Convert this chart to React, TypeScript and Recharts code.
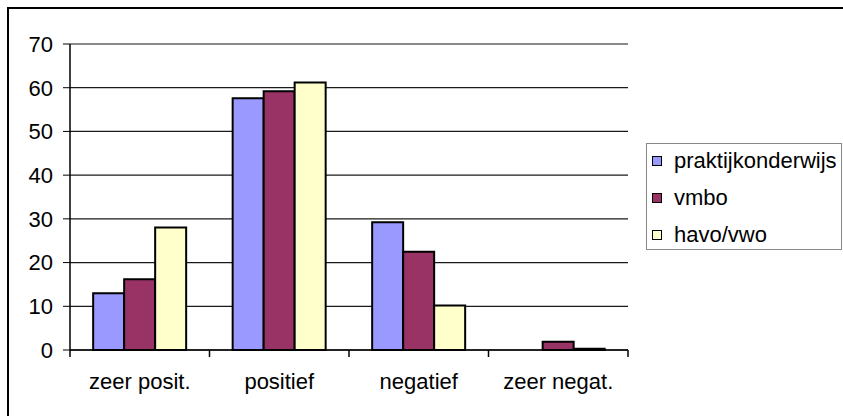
import { BarChart, Bar, XAxis, YAxis, CartesianGrid, ReferenceLine } from "recharts";

const categories = ["zeer posit.", "positief", "negatief", "zeer negat."];
const praktijkonderwijs = [13.0, 57.6, 29.2, 0];
const vmbo = [16.2, 59.2, 22.5, 1.9];
const havoVwo = [28.0, 61.2, 10.2, 0.3];
const yTicks = [0, 10, 20, 30, 40, 50, 60, 70];

const series = [
  { key: "praktijkonderwijs", label: "praktijkonderwijs", color: "#9999FF" },
  { key: "vmbo", label: "vmbo", color: "#993366" },
  { key: "havoVwo", label: "havo/vwo", color: "#FFFFCC" },
];

const data = categories.map((category, i) => ({
  category,
  praktijkonderwijs: praktijkonderwijs[i],
  vmbo: vmbo[i],
  havoVwo: havoVwo[i],
}));

const FONT = "'Liberation Sans', Arial, sans-serif";
const PLOT_LEFT = 70;
const PLOT_RIGHT = 628;
const HALF_BAND = (PLOT_RIGHT - PLOT_LEFT) / categories.length / 2;

// category labels at band centres, tick marks on the band edges
function CategoryTick(props: any) {
  const { x, y, payload, index } = props;
  return (
    <g>
      <line x1={x - HALF_BAND} y1={y} x2={x - HALF_BAND} y2={y + 7} stroke="#000" strokeWidth={1.5} />
      {index === categories.length - 1 && (
        <line x1={x + HALF_BAND} y1={y} x2={x + HALF_BAND} y2={y + 7} stroke="#000" strokeWidth={1.5} />
      )}
      <text x={x} y={y + 39} textAnchor="middle" fontSize={22} fontFamily={FONT} fill="#000">
        {payload.value}
      </text>
    </g>
  );
}

export default function App() {
  return (
    <div style={{ position: "fixed", left: 0, top: 0, width: 843, height: 416, overflow: "hidden", background: "#fff" }}>
      <div style={{ position: "absolute", left: 7, top: 7, width: 2, height: 409, background: "#000" }} />
      <div style={{ position: "absolute", left: 7, top: 7, width: 836, height: 2, background: "#000" }} />
      <div style={{ position: "absolute", left: 0, top: 0 }}>
        <BarChart
          width={843}
          height={416}
          data={data}
          margin={{ top: 44, right: 843 - PLOT_RIGHT, left: 0, bottom: 0 }}
          barCategoryGap="16.6%"
          barGap={0}
        >
          <CartesianGrid vertical={false} stroke="#1a1a1a" strokeWidth={1.2} />
          <XAxis
            dataKey="category"
            interval={0}
            tickSize={0}
            tickMargin={0}
            tickLine={false}
            axisLine={{ stroke: "#000", strokeWidth: 1.5 }}
            tick={<CategoryTick />}
            height={66}
          />
          <YAxis
            domain={[0, 70]}
            ticks={yTicks}
            width={PLOT_LEFT}
            tickSize={7}
            tickMargin={10}
            axisLine={{ stroke: "#000", strokeWidth: 1.5 }}
            tickLine={{ stroke: "#000" }}
            tick={{ fontSize: 22, fontFamily: FONT, fill: "#000" }}
          />
          <YAxis
            yAxisId="right"
            orientation="right"
            width={0}
            tick={false}
            tickLine={false}
            axisLine={{ stroke: "#888", strokeWidth: 1.5 }}
          />
          <ReferenceLine y={70} stroke="#888" strokeWidth={1.5} />
          {series.map((s) => (
            <Bar
              key={s.key}
              dataKey={s.key}
              name={s.label}
              fill={s.color}
              stroke="#000"
              strokeWidth={2}
              isAnimationActive={false}
            />
          ))}
        </BarChart>
      </div>
      <div
        style={{
          position: "absolute",
          left: 646,
          top: 143,
          width: 194,
          height: 105,
          border: "1.5px solid #888",
          fontFamily: FONT,
          fontSize: 22,
          color: "#000",
        }}
      >
        {series.map((s, i) => (
          <div
            key={s.key}
            style={{
              position: "absolute",
              left: 5,
              top: 5 + i * 37,
              height: 24,
              display: "flex",
              alignItems: "center",
              whiteSpace: "nowrap",
            }}
          >
            <span
              style={{
                display: "inline-block",
                width: 8,
                height: 8,
                background: s.color,
                border: "1px solid #000",
                marginRight: 12,
              }}
            />
            <span style={{ lineHeight: "24px" }}>{s.label}</span>
          </div>
        ))}
      </div>
    </div>
  );
}
